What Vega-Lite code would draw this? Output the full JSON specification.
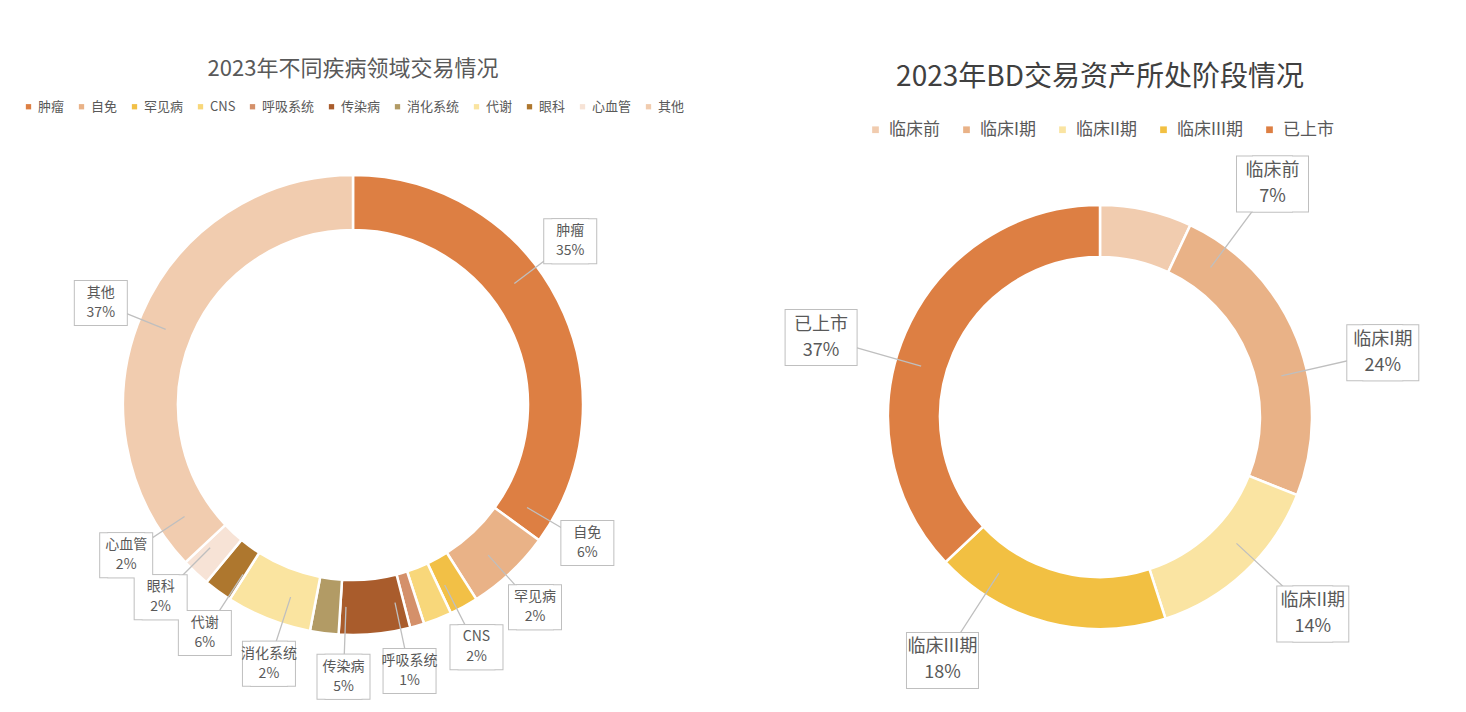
{
  "$schema": "https://vega.github.io/schema/vega-lite/v6.json",
  "padding": {"left": 0, "top": 58, "right": 0, "bottom": 0},
  "bounds": "flush",
  "spacing": 44,
  "config": {
    "font": "Noto Sans CJK SC",
    "view": {"stroke": null},
    "legend": {"layout": {"top": {"anchor": "middle"}}}
  },
  "resolve": {"scale": {"color": "independent", "theta": "independent"}, "legend": {"color": "independent"}},
  "hconcat": [
    {
      "width": 706,
      "height": 526,
      "title": {"text": "2023年不同疾病领域交易情况", "fontSize": 22, "fontWeight": "normal", "color": "#595959", "offset": 19},
      "data": {"values": [
        {"area": "肿瘤", "share": 0.35},
        {"area": "自免", "share": 0.06},
        {"area": "罕见病", "share": 0.02},
        {"area": "CNS", "share": 0.02},
        {"area": "呼吸系统", "share": 0.01},
        {"area": "传染病", "share": 0.05},
        {"area": "消化系统", "share": 0.02},
        {"area": "代谢", "share": 0.06},
        {"area": "眼科", "share": 0.02},
        {"area": "心血管", "share": 0.02},
        {"area": "其他", "share": 0.37}
      ]},
      "transform": [{"window": [{"op": "row_number", "as": "i"}]}],
      "resolve": {"scale": {"theta": "independent"}},
      "layer": [
        {
          "mark": {"type": "arc", "radius": 230, "radius2": 175, "stroke": "#ffffff", "strokeWidth": 2.5},
          "encoding": {
            "theta": {"field": "share", "type": "quantitative", "stack": true},
            "order": {"field": "i", "type": "quantitative"},
            "color": {
              "field": "area", "type": "nominal",
              "scale": {
                "domain": ["肿瘤", "自免", "罕见病", "CNS", "呼吸系统", "传染病", "消化系统", "代谢", "眼科", "心血管", "其他"],
                "range": ["#DD7F43", "#E9B287", "#F2C046", "#F8D77A", "#D4906A", "#A95C2C", "#B29B65", "#FAE4A0", "#AE772E", "#F7E3D6", "#F1CCAF"]
              },
              "legend": {"orient": "top", "direction": "horizontal", "title": null, "symbolType": "square", "symbolSize": 28, "symbolStrokeWidth": 0, "labelFontSize": 13, "labelColor": "#595959", "columnPadding": 10, "labelOffset": 3, "offset": 28}
            }
          }
        },
        {
          "mark": {"type": "arc", "radius": 272, "radius2": 202, "padAngle": 3.1416, "fill": "transparent", "stroke": "#bfbfbf", "strokeWidth": 1.3, "strokeJoin": "bevel"},
          "encoding": {
            "theta": {"field": "share", "type": "quantitative", "stack": true, "scale": {"domain": [0, 0.35, 0.41, 0.43, 0.45, 0.46, 0.51, 0.53, 0.59, 0.61, 0.63, 1], "range": [-0.0698, 1.9199, 2.2864, 2.5307, 2.81, 3.0543, 3.2987, 3.6128, 3.8223, 4.0317, 4.2237, 5.969], "nice": false, "zero": false}},
            "order": {"field": "i", "type": "quantitative"}
          }
        },
        {
          "mark": {"type": "arc", "radius": 272, "radius2": 272, "padAngle": 3.1416, "fill": "transparent", "stroke": "#bfbfbf", "strokeWidth": 46, "strokeCap": "square", "strokeJoin": "bevel", "xOffset": -4},
          "encoding": {
            "theta": {"field": "share", "type": "quantitative", "stack": true, "scale": {"domain": [0, 0.35, 0.41, 0.43, 0.45, 0.46, 0.51, 0.53, 0.59, 0.61, 0.63, 1], "range": [-0.0698, 1.9199, 2.2864, 2.5307, 2.81, 3.0543, 3.2987, 3.6128, 3.8223, 4.0317, 4.2237, 5.969], "nice": false, "zero": false}},
            "order": {"field": "i", "type": "quantitative"}
          }
        },
        {
          "mark": {"type": "arc", "radius": 272, "radius2": 272, "padAngle": 3.1416, "fill": "transparent", "stroke": "#bfbfbf", "strokeWidth": 46, "strokeCap": "square", "strokeJoin": "bevel", "xOffset": 4},
          "encoding": {
            "theta": {"field": "share", "type": "quantitative", "stack": true, "scale": {"domain": [0, 0.35, 0.41, 0.43, 0.45, 0.46, 0.51, 0.53, 0.59, 0.61, 0.63, 1], "range": [-0.0698, 1.9199, 2.2864, 2.5307, 2.81, 3.0543, 3.2987, 3.6128, 3.8223, 4.0317, 4.2237, 5.969], "nice": false, "zero": false}},
            "order": {"field": "i", "type": "quantitative"}
          }
        },
        {
          "mark": {"type": "arc", "radius": 272, "radius2": 272, "padAngle": 3.1416, "fill": "transparent", "stroke": "#ffffff", "strokeWidth": 44, "strokeCap": "square", "strokeJoin": "bevel", "xOffset": -4},
          "encoding": {
            "theta": {"field": "share", "type": "quantitative", "stack": true, "scale": {"domain": [0, 0.35, 0.41, 0.43, 0.45, 0.46, 0.51, 0.53, 0.59, 0.61, 0.63, 1], "range": [-0.0698, 1.9199, 2.2864, 2.5307, 2.81, 3.0543, 3.2987, 3.6128, 3.8223, 4.0317, 4.2237, 5.969], "nice": false, "zero": false}},
            "order": {"field": "i", "type": "quantitative"}
          }
        },
        {
          "mark": {"type": "arc", "radius": 272, "radius2": 272, "padAngle": 3.1416, "fill": "transparent", "stroke": "#ffffff", "strokeWidth": 44, "strokeCap": "square", "strokeJoin": "bevel", "xOffset": 4},
          "encoding": {
            "theta": {"field": "share", "type": "quantitative", "stack": true, "scale": {"domain": [0, 0.35, 0.41, 0.43, 0.45, 0.46, 0.51, 0.53, 0.59, 0.61, 0.63, 1], "range": [-0.0698, 1.9199, 2.2864, 2.5307, 2.81, 3.0543, 3.2987, 3.6128, 3.8223, 4.0317, 4.2237, 5.969], "nice": false, "zero": false}},
            "order": {"field": "i", "type": "quantitative"}
          }
        },
        {
          "mark": {"type": "text", "radius": 272, "dy": -10, "fontSize": 14, "fill": "#595959", "align": "center", "baseline": "middle"},
          "encoding": {
            "theta": {"field": "share", "type": "quantitative", "stack": true, "scale": {"domain": [0, 0.35, 0.41, 0.43, 0.45, 0.46, 0.51, 0.53, 0.59, 0.61, 0.63, 1], "range": [-0.0698, 1.9199, 2.2864, 2.5307, 2.81, 3.0543, 3.2987, 3.6128, 3.8223, 4.0317, 4.2237, 5.969], "nice": false, "zero": false}},
            "order": {"field": "i", "type": "quantitative"},
            "text": {"field": "area", "type": "nominal"}
          }
        },
        {
          "mark": {"type": "text", "radius": 272, "dy": 10, "fontSize": 14, "fill": "#595959", "align": "center", "baseline": "middle"},
          "encoding": {
            "theta": {"field": "share", "type": "quantitative", "stack": true, "scale": {"domain": [0, 0.35, 0.41, 0.43, 0.45, 0.46, 0.51, 0.53, 0.59, 0.61, 0.63, 1], "range": [-0.0698, 1.9199, 2.2864, 2.5307, 2.81, 3.0543, 3.2987, 3.6128, 3.8223, 4.0317, 4.2237, 5.969], "nice": false, "zero": false}},
            "order": {"field": "i", "type": "quantitative"},
            "text": {"field": "share", "type": "quantitative", "format": ".0%"}
          }
        }
      ]
    },
    {
      "width": 700,
      "height": 550,
      "title": {"text": "2023年BD交易资产所处阶段情况", "fontSize": 28, "fontWeight": "normal", "color": "#404040", "offset": 29},
      "data": {"values": [
        {"stage": "临床前", "share": 0.07},
        {"stage": "临床I期", "share": 0.24},
        {"stage": "临床II期", "share": 0.14},
        {"stage": "临床III期", "share": 0.18},
        {"stage": "已上市", "share": 0.37}
      ]},
      "transform": [{"window": [{"op": "row_number", "as": "i"}]}],
      "resolve": {"scale": {"theta": "independent"}},
      "layer": [
        {
          "mark": {"type": "arc", "radius": 212, "radius2": 160, "stroke": "#ffffff", "strokeWidth": 2.5},
          "encoding": {
            "theta": {"field": "share", "type": "quantitative", "stack": true},
            "order": {"field": "i", "type": "quantitative"},
            "color": {
              "field": "stage", "type": "nominal",
              "scale": {
                "domain": ["临床前", "临床I期", "临床II期", "临床III期", "已上市"],
                "range": ["#F1CCAF", "#E9B287", "#FAE4A2", "#F2C042", "#DD7F43"]
              },
              "legend": {"orient": "top", "direction": "horizontal", "title": null, "symbolType": "square", "symbolSize": 45, "symbolStrokeWidth": 0, "labelFontSize": 17, "labelColor": "#595959", "columnPadding": 18, "labelOffset": 5, "offset": 4}
            }
          }
        },
        {
          "mark": {"type": "arc", "radius": 290, "radius2": 186, "padAngle": 3.1416, "fill": "transparent", "stroke": "#bfbfbf", "strokeWidth": 1.3, "strokeJoin": "bevel"},
          "encoding": {
            "theta": {"field": "share", "type": "quantitative", "stack": true, "scale": {"domain": [0, 0.07, 0.31, 0.45, 0.63, 1], "range": [0.3142, 0.9599, 1.7349, 2.9007, 4.5309, 5.4489], "nice": false, "zero": false}},
            "order": {"field": "i", "type": "quantitative"}
          }
        },
        {
          "mark": {"type": "arc", "radius": 290, "radius2": 290, "padAngle": 3.1416, "fill": "transparent", "stroke": "#bfbfbf", "strokeWidth": 57, "strokeCap": "square", "strokeJoin": "bevel", "xOffset": -8},
          "encoding": {
            "theta": {"field": "share", "type": "quantitative", "stack": true, "scale": {"domain": [0, 0.07, 0.31, 0.45, 0.63, 1], "range": [0.3142, 0.9599, 1.7349, 2.9007, 4.5309, 5.4489], "nice": false, "zero": false}},
            "order": {"field": "i", "type": "quantitative"}
          }
        },
        {
          "mark": {"type": "arc", "radius": 290, "radius2": 290, "padAngle": 3.1416, "fill": "transparent", "stroke": "#bfbfbf", "strokeWidth": 57, "strokeCap": "square", "strokeJoin": "bevel", "xOffset": 8},
          "encoding": {
            "theta": {"field": "share", "type": "quantitative", "stack": true, "scale": {"domain": [0, 0.07, 0.31, 0.45, 0.63, 1], "range": [0.3142, 0.9599, 1.7349, 2.9007, 4.5309, 5.4489], "nice": false, "zero": false}},
            "order": {"field": "i", "type": "quantitative"}
          }
        },
        {
          "mark": {"type": "arc", "radius": 290, "radius2": 290, "padAngle": 3.1416, "fill": "transparent", "stroke": "#ffffff", "strokeWidth": 55, "strokeCap": "square", "strokeJoin": "bevel", "xOffset": -8},
          "encoding": {
            "theta": {"field": "share", "type": "quantitative", "stack": true, "scale": {"domain": [0, 0.07, 0.31, 0.45, 0.63, 1], "range": [0.3142, 0.9599, 1.7349, 2.9007, 4.5309, 5.4489], "nice": false, "zero": false}},
            "order": {"field": "i", "type": "quantitative"}
          }
        },
        {
          "mark": {"type": "arc", "radius": 290, "radius2": 290, "padAngle": 3.1416, "fill": "transparent", "stroke": "#ffffff", "strokeWidth": 55, "strokeCap": "square", "strokeJoin": "bevel", "xOffset": 8},
          "encoding": {
            "theta": {"field": "share", "type": "quantitative", "stack": true, "scale": {"domain": [0, 0.07, 0.31, 0.45, 0.63, 1], "range": [0.3142, 0.9599, 1.7349, 2.9007, 4.5309, 5.4489], "nice": false, "zero": false}},
            "order": {"field": "i", "type": "quantitative"}
          }
        },
        {
          "mark": {"type": "text", "radius": 290, "dy": -13, "fontSize": 18, "fill": "#595959", "align": "center", "baseline": "middle"},
          "encoding": {
            "theta": {"field": "share", "type": "quantitative", "stack": true, "scale": {"domain": [0, 0.07, 0.31, 0.45, 0.63, 1], "range": [0.3142, 0.9599, 1.7349, 2.9007, 4.5309, 5.4489], "nice": false, "zero": false}},
            "order": {"field": "i", "type": "quantitative"},
            "text": {"field": "stage", "type": "nominal"}
          }
        },
        {
          "mark": {"type": "text", "radius": 290, "dy": 13, "fontSize": 18, "fill": "#595959", "align": "center", "baseline": "middle"},
          "encoding": {
            "theta": {"field": "share", "type": "quantitative", "stack": true, "scale": {"domain": [0, 0.07, 0.31, 0.45, 0.63, 1], "range": [0.3142, 0.9599, 1.7349, 2.9007, 4.5309, 5.4489], "nice": false, "zero": false}},
            "order": {"field": "i", "type": "quantitative"},
            "text": {"field": "share", "type": "quantitative", "format": ".0%"}
          }
        }
      ]
    }
  ]
}
